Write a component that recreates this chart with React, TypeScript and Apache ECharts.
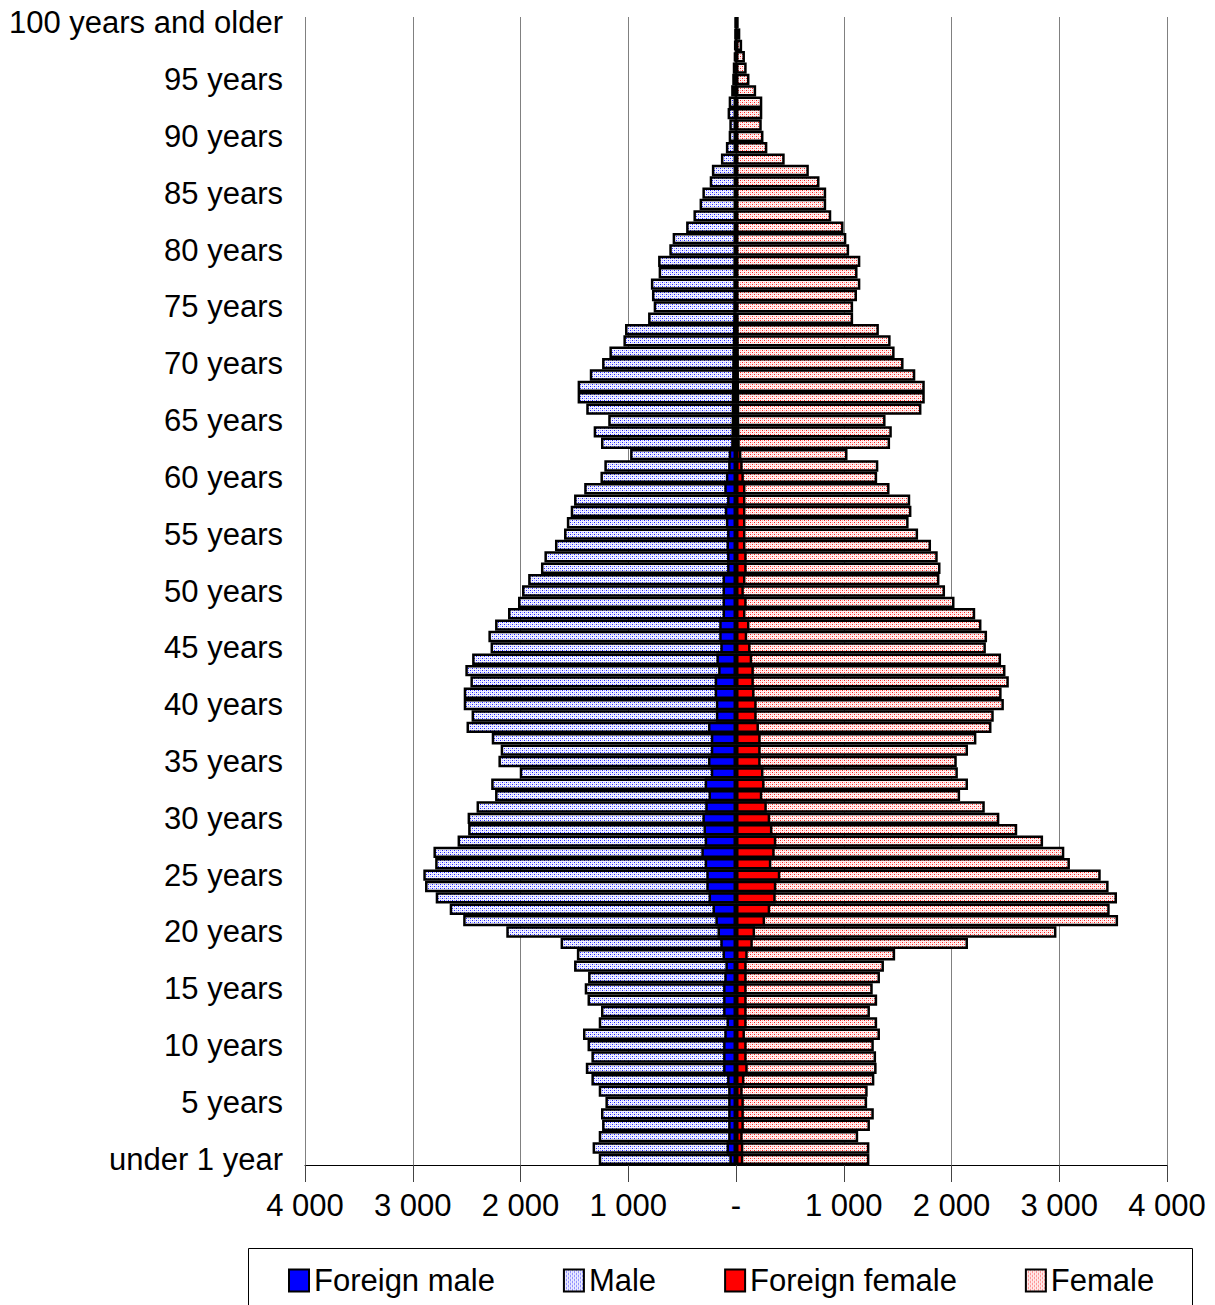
import React, { useEffect, useRef } from "react";
import * as echarts from "echarts";

const ageLabels: string[] = [
  "under 1 year",
  ...Array.from({ length: 99 }, (_, i) => (i + 1 === 1 ? "1 year" : `${i + 1} years`)),
  "100 years and older",
];

// index 0 = under 1 year ... index 100 = 100 years and older
const maleTotal: number[] = [
  1274, 1331, 1274, 1243, 1253, 1212, 1274, 1342, 1394, 1342,
  1378, 1420, 1274, 1253, 1378, 1404, 1373, 1503, 1477, 1628,
  2132, 2532, 2657, 2787, 2886, 2902, 2792, 2808, 2584, 2486,
  2491, 2408, 2236, 2272, 2007, 2205, 2184, 2267, 2501, 2454,
  2527, 2527, 2465, 2512, 2449, 2278, 2298, 2236, 2116, 2023,
  1986, 1929, 1810, 1778, 1680, 1596, 1570, 1534, 1503, 1409,
  1258, 1222, 983, 1253, 1321, 1186, 1390, 1470, 1470, 1357,
  1243, 1175, 1045, 1030, 816, 764, 780, 790, 718, 723,
  619, 588, 463, 395, 338, 312, 244, 224, 140, 94,
  68, 62, 78, 68, 45, 35, 30, 20, 15, 8,
  5,
];

const femaleTotal: number[] = [
  1238, 1238, 1134, 1243, 1279, 1217, 1222, 1284, 1305, 1300,
  1279, 1336, 1310, 1243, 1310, 1269, 1336, 1373, 1477, 2153,
  2974, 3546, 3468, 3536, 3458, 3385, 3099, 3047, 2850, 2610,
  2444, 2309, 2080, 2153, 2059, 2049, 2153, 2231, 2371, 2392,
  2486, 2465, 2532, 2501, 2460, 2319, 2330, 2278, 2220, 2028,
  1940, 1888, 1898, 1872, 1810, 1690, 1602, 1628, 1617, 1425,
  1310, 1321, 1035, 1430, 1446, 1388, 1721, 1752, 1752, 1664,
  1555, 1472, 1435, 1326, 1087, 1087, 1123, 1154, 1128, 1154,
  1050, 1024, 998, 884, 837, 837, 775, 676, 452, 291,
  255, 239, 244, 244, 187, 125, 99, 83, 57, 40,
  25,
];

const foreignMale: number[] = [
  62, 88, 73, 73, 73, 73, 73, 83, 120, 120,
  120, 109, 88, 120, 120, 120, 109, 99, 125, 146,
  172, 192, 218, 255, 276, 276, 291, 322, 291, 302,
  312, 286, 255, 291, 234, 260, 234, 234, 260, 187,
  187, 198, 198, 166, 182, 146, 156, 156, 125, 125,
  125, 125, 83, 83, 88, 83, 94, 104, 83, 109,
  94, 73, 68, 45, 42, 40, 40, 40, 38, 36,
  35, 33, 30, 28, 25, 24, 22, 22, 20, 20,
  18, 18, 16, 15, 14, 13, 12, 10, 9, 8,
  7, 6, 5, 5, 4, 3, 3, 2, 2, 1,
  1,
];

const foreignFemale: number[] = [
  68, 68, 62, 73, 73, 73, 62, 78, 109, 99,
  99, 83, 99, 99, 99, 99, 99, 99, 109, 156,
  177, 270, 317, 369, 374, 411, 328, 359, 374, 338,
  317, 286, 244, 265, 255, 229, 229, 229, 213, 192,
  192, 172, 166, 166, 150, 135, 104, 125, 88, 99,
  73, 88, 99, 99, 88, 88, 88, 88, 88, 88,
  73, 62, 50, 35, 32, 30, 30, 30, 28, 27,
  26, 25, 24, 22, 20, 18, 17, 16, 15, 14,
  13, 12, 12, 11, 10, 9, 8, 8, 7, 6,
  5, 5, 4, 4, 3, 3, 2, 2, 2, 1,
  1,
];

const xTicks: number[] = [-4000, -3000, -2000, -1000, 0, 1000, 2000, 3000, 4000];

function makePattern(bg: string, dot: string, halo: string): HTMLCanvasElement {
  const c = document.createElement("canvas");
  c.width = 4;
  c.height = 4;
  const ctx = c.getContext("2d")!;
  ctx.fillStyle = bg;
  ctx.fillRect(0, 0, 4, 4);
  ctx.fillStyle = halo;
  ctx.fillRect(0, 2, 1, 1);
  ctx.fillRect(2, 0, 1, 1);
  ctx.fillStyle = dot;
  ctx.fillRect(0, 0, 1, 1);
  ctx.fillRect(2, 2, 1, 1);
  return c;
}

function fmt(v: number): string {
  if (v === 0) return "-";
  const a = Math.abs(v);
  return a.toString().replace(/\B(?=(\d{3})+(?!\d))/g, " ");
}

export default function App() {
  const ref = useRef<HTMLDivElement>(null);

  useEffect(() => {
    document.body.style.margin = "0";
    if (!ref.current) return;
    const chart = echarts.init(ref.current, undefined, { renderer: "svg" });
    const font = "'Liberation Sans', Arial, sans-serif";
    const malePattern = { image: makePattern("#f2f2ff", "#2020ff", "#a8a8ff"), repeat: "repeat" };
    const femalePattern = { image: makePattern("#fff2f2", "#ff2020", "#ffa8a8"), repeat: "repeat" };

    const barCommon = {
      type: "bar" as const,
      barGap: "-100%",
      barCategoryGap: "0%",
    };
    const border = { borderColor: "#000", borderWidth: 2.5 };

    chart.setOption({
      animation: false,
      textStyle: { fontFamily: font },
      grid: { left: 305, right: 48, top: 17, bottom: 140, containLabel: false },
      xAxis: {
        type: "value",
        min: xTicks[0],
        max: xTicks[xTicks.length - 1],
        interval: 1000,
        axisLine: { show: true, onZero: false, lineStyle: { color: "#000", width: 1 } },
        axisTick: { show: true, length: 17, lineStyle: { color: "#444", width: 1 } },
        splitLine: { show: true, lineStyle: { color: "#808080", width: 1 } },
        axisLabel: {
          formatter: (v: number) => fmt(v),
          color: "#000",
          fontSize: 31,
          fontFamily: font,
          margin: 25,
        },
      },
      yAxis: {
        type: "category",
        data: ageLabels,
        axisLine: { show: false },
        axisTick: { show: false },
        splitLine: { show: false },
        axisLabel: {
          interval: 4,
          color: "#000",
          fontSize: 31,
          fontFamily: font,
          margin: 22,
        },
      },
      legend: {
        data: ["Foreign male", "Male", "Foreign female", "Female"],
        left: 283,
        top: 1260,
        icon: "rect",
        itemWidth: 20,
        itemHeight: 22,
        itemGap: 68,
        textStyle: { fontSize: 31, color: "#000", fontFamily: font },
      },
      graphic: [
        {
          type: "rect",
          shape: { x: 248.5, y: 1248.5, width: 944, height: 80 },
          style: { fill: "none", stroke: "#000", lineWidth: 1 },
          silent: true,
        },
      ],
      series: [
        {
          ...barCommon,
          name: "Male",
          data: maleTotal.map((v) => -v),
          itemStyle: { color: malePattern, ...border },
        },
        {
          ...barCommon,
          name: "Female",
          data: femaleTotal,
          itemStyle: { color: femalePattern, ...border },
        },
        {
          ...barCommon,
          name: "Foreign male",
          data: foreignMale.map((v) => -v),
          itemStyle: { color: "#0000ff", ...border },
          z: 3,
        },
        {
          ...barCommon,
          name: "Foreign female",
          data: foreignFemale,
          itemStyle: { color: "#ff0000", ...border },
          z: 3,
        },
      ],
    });
    return () => chart.dispose();
  }, []);

  return <div ref={ref} style={{ width: 1215, height: 1305 }} />;
}
